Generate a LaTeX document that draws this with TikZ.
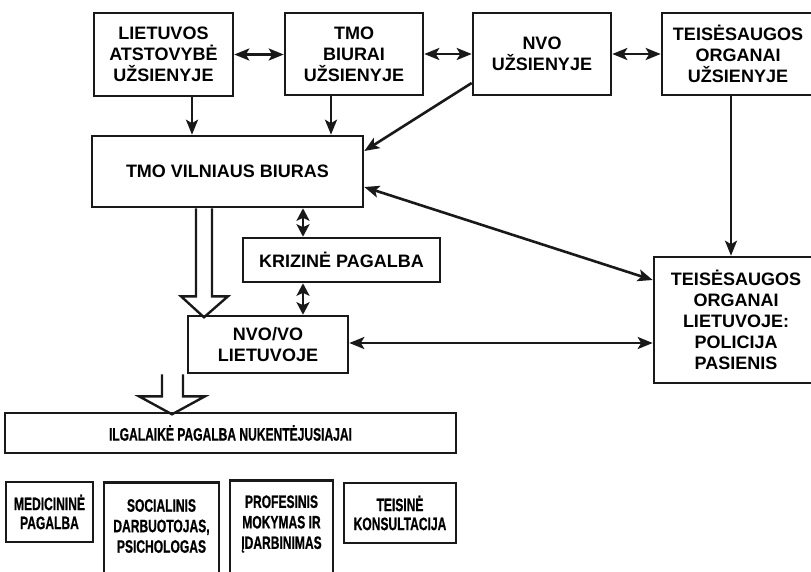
\documentclass[tikz,border=0pt]{standalone}
\usepackage{fontspec}
\setmainfont{Liberation Sans}
\newfontfamily\narrowfont[FakeStretch=0.67,FakeBold=0.6]{Liberation Sans Bold}
\usetikzlibrary{arrows.meta,calc}
\tikzset{
  x=1pt,y=-1pt,
  boxline/.style={draw=black!90,line width=2.6pt},
  topbox/.style={boxline,inner sep=0pt,align=center,
    font=\fontsize{18}{21}\selectfont\bfseries},
  lowbox/.style={boxline,inner sep=0pt,align=center,
    font=\narrowfont\fontsize{18}{19}\selectfont},
  lowtext/.style={inner sep=0pt,align=center,
    font=\narrowfont\fontsize{18}{20.5}\selectfont},
  arr/.style={draw=black!90,line width=2.6pt,-{Stealth[length=15pt,width=12pt,inset=3.5pt]}},
  darr/.style={draw=black!90,line width=2.6pt,{Stealth[length=15pt,width=12pt,inset=3.5pt]}-{Stealth[length=15pt,width=12pt,inset=3.5pt]}},
  varr/.style={draw=black!90,line width=2.6pt,{Stealth[length=12.5pt,width=13pt,inset=3pt]}-{Stealth[length=12.5pt,width=13pt,inset=3pt]}},
  hollow/.style={draw=black!90,line width=2.4pt,line join=miter},
}
\begin{document}
\begin{tikzpicture}
\useasboundingbox (0,0) rectangle (811,571);
\clip (0,0) rectangle (811,571);
\fill[white] (0,0) rectangle (811,571);

% top row
\node[topbox,minimum width=139,minimum height=83] (b1) at (163.5,54.5) {LIETUVOS\\ATSTOVYBĖ\\UŽSIENYJE};
\node[topbox,minimum width=138,minimum height=82] (b2) at (354,54) {TMO\\BIURAI\\UŽSIENYJE};
\node[topbox,minimum width=138,minimum height=82] (b3) at (542,54) {NVO\\UŽSIENYJE};
\node[topbox,minimum width=152,minimum height=82] (b4) at (738,54) {TEISĖSAUGOS\\ORGANAI\\UŽSIENYJE};

% middle
\node[topbox,minimum width=271,minimum height=71] (tmo) at (227.5,171.5) {TMO VILNIAUS BIURAS};
\node[topbox,minimum width=197,minimum height=44] (kriz) at (341.5,260) {KRIZINĖ PAGALBA};
\node[topbox,minimum width=160,minimum height=57] (nvovo) at (268,344.5) {NVO/VO\\LIETUVOJE};
\node[topbox,minimum width=164,minimum height=126] (tl) at (736,320) {TEISĖSAUGOS\\ORGANAI\\LIETUVOJE:\\POLICIJA\\PASIENIS};

% lower
\node[lowbox,minimum width=451,minimum height=40] (ilg) at (230.5,433) {ILGALAIKĖ PAGALBA NUKENTĖJUSIAJAI};
\node[lowbox,minimum width=87,minimum height=60] (med) at (49.5,512) {MEDICININĖ\\PAGALBA};
\node[boxline,inner sep=0pt,minimum width=115,minimum height=130,anchor=north] (soc) at (161.5,481) {};
\node[lowtext] (soct) at (161.5,526) {SOCIALINIS\\DARBUOTOJAS,\\PSICHOLOGAS};
\node[boxline,inner sep=0pt,minimum width=103,minimum height=130,anchor=north] (prof) at (281.5,479) {};
\node[lowtext] (proft) at (281.5,524) {PROFESINIS\\MOKYMAS IR\\ĮDARBINIMAS};
\node[lowbox,minimum width=112,minimum height=60] (teis) at (400,513) {TEISINĖ\\KONSULTACIJA};

% connectors, top row
\draw[darr] (b1.east) -- (b2.west |- b1.east);
\draw[darr] (b2.east) -- (b3.west);
\draw[darr] (b3.east) -- (b4.west);
\draw[arr] ([xshift=28.5pt]b1.south) -- ([xshift=28.5pt]b1.south |- tmo.north);
\draw[arr] ([xshift=-23pt]b2.south) -- ([xshift=-23pt]b2.south |- tmo.north);
\draw[arr] ([yshift=-29pt]b3.west) -- ([yshift=20.5pt]tmo.east);
\draw[darr] ([yshift=-15.5pt]tmo.east) -- ([yshift=40pt]tl.west);
\draw[arr] ([xshift=-7pt]b4.south) -- ([xshift=-7pt]b4.south |- tl.north);

% middle connectors
\draw[varr] ([xshift=-38.5pt]kriz.north |- tmo.south) -- ([xshift=-38.5pt]kriz.north);
\draw[varr] ([xshift=-38.5pt]kriz.south) -- ([xshift=-38.5pt]kriz.south |- nvovo.north);
\draw[darr] ([yshift=1.5pt]nvovo.east) -- ([yshift=1.5pt]nvovo.east -| tl.west);

% hollow arrows
\begin{scope}[shift={(tmo.south)}]
  \draw[hollow] (-31.5,0) -- (-31.5,88) -- (-46.5,88) -- (-23.5,109) -- (0.5,88) -- (-15.5,88) -- (-15.5,0);
\end{scope}
\begin{scope}[shift={(nvovo.south)}]
  \draw[hollow] (-106,0) -- (-106,22) -- (-129,22) -- (-96,40) -- (-63,22) -- (-85,22) -- (-85,0);
\end{scope}
\end{tikzpicture}
\end{document}
